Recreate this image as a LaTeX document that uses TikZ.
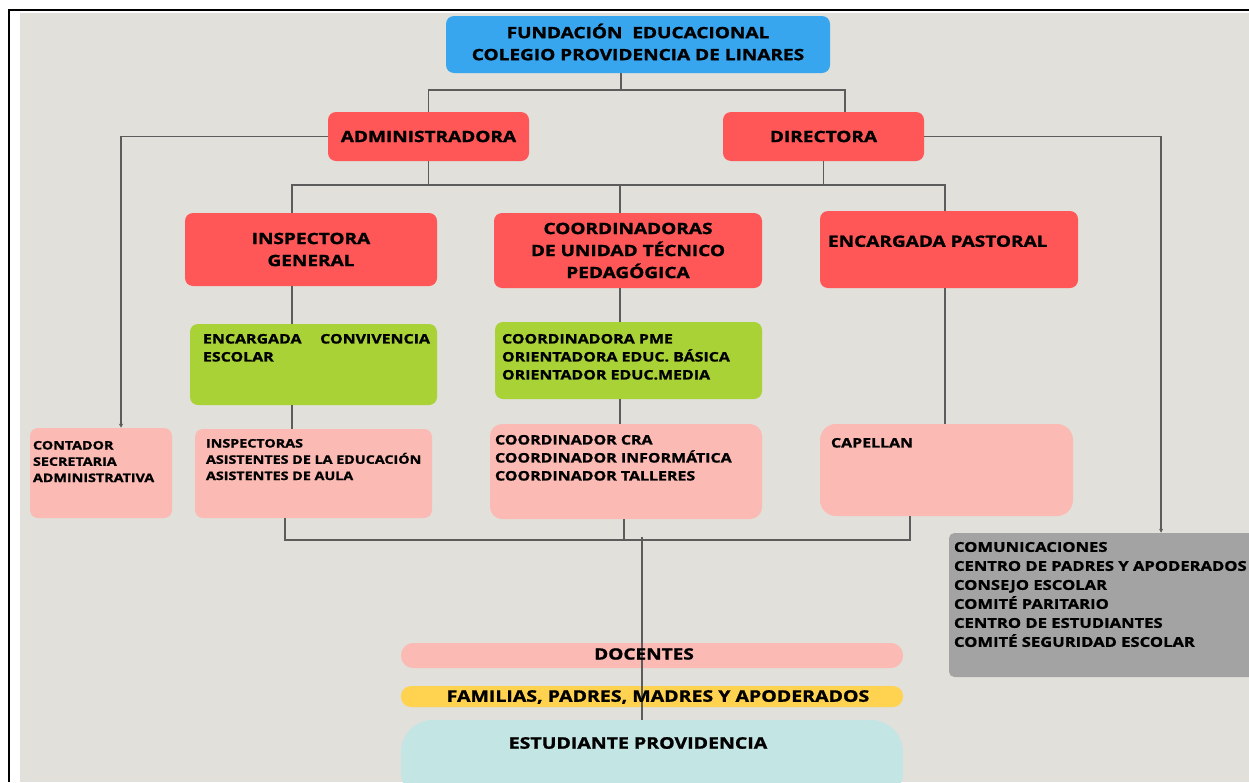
\documentclass[tikz,border=0pt]{standalone}
\usepackage{fontspec}
\setmainfont{Open Sans}[FakeStretch=1.22,BoldFeatures={FakeBold=1.3}]
\usetikzlibrary{arrows.meta,calc}

\definecolor{paper}{HTML}{E1E0DA}
\definecolor{fundblue}{HTML}{37A6EF}
\definecolor{rolered}{HTML}{FF5757}
\definecolor{rolegreen}{HTML}{A8D236}
\definecolor{rolepink}{HTML}{FBBAB3}
\definecolor{rolegray}{HTML}{A3A3A3}
\definecolor{famyellow}{HTML}{FFD24F}
\definecolor{studteal}{HTML}{C3E5E3}
\definecolor{linegray}{HTML}{5C5C5C}

\begin{document}
\begin{tikzpicture}[x=0.75pt,y=-0.75pt,
	boxsize/.style 2 args={minimum width=#1*0.75pt,minimum height=#2*0.75pt},
	unit/.style={rectangle,rounded corners=6pt,inner sep=0pt},
	big/.style={font=\fontsize{11.7}{16.5}\selectfont\bfseries,align=center},
	mid/.style={font=\fontsize{9.8}{13.5}\selectfont\bfseries,align=left},
	small/.style={font=\fontsize{8.8}{12.2}\selectfont\bfseries,align=left},
	txt/.style={anchor=north west,inner sep=0pt},
	conn/.style={draw=linegray,line width=0.8pt},
	tip/.style={-{Stealth[length=3pt,width=3pt]}}]
	\useasboundingbox (0,0) rectangle (1249,782);
	
	% page and frame
	\fill[white] (0,0) rectangle (1249,782);
	\fill[paper] (20,13) rectangle (1249,782);
	\draw[line width=1.2pt] (9,10) -- (1249,10);
	\draw[line width=2pt] (9,9.3) -- (9,782);
	
	% top levels
	\node[unit,fill=fundblue,boxsize={384}{57}] (found) at (638,44.5) {};
	\node[big] (foundtxt) at (638,42) {FUNDACIÓN\ \ EDUCACIONAL\\COLEGIO PROVIDENCIA DE LINARES};
	\node[unit,fill=rolered,boxsize={201}{49},big] (admin) at (428.5,136.5) {ADMINISTRADORA};
	\node[unit,fill=rolered,boxsize={201}{49},big] (direc) at (823.5,136.5) {DIRECTORA};
	
	\node[unit,fill=rolered,boxsize={252}{73},big] (insp) at (311,249.5) {INSPECTORA\\GENERAL};
	\node[unit,fill=rolered,boxsize={268}{75},big] (coord) at (628,250.5) {COORDINADORAS\\DE UNIDAD TÉCNICO\\PEDAGÓGICA};
	\node[unit,fill=rolered,boxsize={258}{77}] (past) at (949,249.5) {};
	\node[big,txt] (pasttxt) at ($(past.north west)+(8,24.5)$) {ENCARGADA PASTORAL};
	
	% green level
	\node[unit,fill=rolegreen,boxsize={247}{81}] (conv) at (313.5,364.5) {};
	\node[mid,txt,text width=170.25pt] (convtxt) at ($(conv.north west)+(13,10)$) {ENCARGADA\hfill CONVIVENCIA\\ESCOLAR};
	\node[unit,fill=rolegreen,boxsize={267}{77}] (pme) at (628.5,360.5) {};
	\node[mid,txt] (pmetxt) at ($(pme.north west)+(7,12)$) {COORDINADORA PME\\ORIENTADORA EDUC. BÁSICA\\ORIENTADOR EDUC.MEDIA};
	
	% pink level
	\node[unit,fill=rolepink,boxsize={142}{90}] (cont) at (101,473) {};
	\node[small,txt] (conttxt) at ($(cont.north west)+(3,13)$) {CONTADOR\\SECRETARIA\\ADMINISTRATIVA};
	\node[unit,fill=rolepink,boxsize={237}{89}] (inspas) at (313.5,473.5) {};
	\node[small,txt] (inspastxt) at ($(inspas.north west)+(11,10)$) {INSPECTORAS\\ASISTENTES DE LA EDUCACIÓN\\ASISTENTES DE AULA};
	\node[unit,fill=rolepink,boxsize={272}{95},rounded corners=9pt] (cra) at (626,471.5) {};
	\node[mid,txt] (cratxt) at ($(cra.north west)+(5,11)$) {COORDINADOR CRA\\COORDINADOR INFORMÁTICA\\COORDINADOR TALLERES};
	\node[unit,fill=rolepink,boxsize={253}{92},rounded corners=12pt] (capel) at (946.5,470) {};
	\node[mid,txt] (capeltxt) at ($(capel.north west)+(11,14)$) {CAPELLAN};
	\node[unit,fill=rolegray,boxsize={311}{144},rounded corners=4pt] (comu) at (1104.5,605) {};
	\node[mid,txt,font=\fontsize{10.2}{14.25}\selectfont\bfseries] (comutxt) at ($(comu.north west)+(5,9)$) {COMUNICACIONES\\CENTRO DE PADRES Y APODERADOS\\CONSEJO ESCOLAR\\COMITÉ PARITARIO\\CENTRO DE ESTUDIANTES\\COMITÉ SEGURIDAD ESCOLAR};
	
	% base
	\node[unit,fill=rolepink,boxsize={502}{25},rounded corners=9pt] (doc) at (652,655.5) {};
	\node[unit,fill=famyellow,boxsize={502}{21},rounded corners=7.5pt] (fam) at (652,696.5) {};
	\node[unit,fill=studteal,boxsize={502}{84},rounded corners=24pt] (est) at (652,762) {};
	
	% connectors
	\coordinate (j0) at (621,90);
	\coordinate (j1) at (845,90);
	\draw[conn] (found.south -| j0) -- (j0);
	\draw[conn] (admin.north) |- (j0) -| (direc.north -| j1);
	
	\coordinate (k0) at (292,185);
	\coordinate (k1) at (620,185);
	\coordinate (k2) at (945,185);
	\draw[conn] (admin.south) -- (admin.south |- k0);
	\draw[conn] (direc.south) -- (direc.south |- k0);
	\draw[conn] (insp.north -| k0) |- (k2) -- (past.north -| k2);
	\draw[conn] (k1) -- (coord.north -| k1);
	
	\draw[conn] (insp.south -| k0) -- (conv.north -| k0);
	\draw[conn] (conv.south -| k0) -- (inspas.north -| k0);
	\draw[conn] (coord.south -| k1) -- (pme.north -| k1);
	\draw[conn] (pme.south -| k1) -- (cra.north -| k1);
	\draw[conn] (past.south -| k2) -- (capel.north -| k2);
	
	\coordinate (a0) at (121,136);
	\coordinate (a1) at (1161,136);
	\draw[conn,tip] (admin.west) -| (cont.north -| a0);
	\draw[conn,tip] (direc.east) -| (comu.north -| a1);
	
	\coordinate (m0) at (285,540);
	\coordinate (m1) at (624,540);
	\coordinate (m2) at (910,540);
	\coordinate (m3) at (642,537);
	\draw[conn] (inspas.south -| m0) |- (m2) -- (capel.south -| m2);
	\draw[conn] (cra.south -| m1) -- (m1);
	\draw[conn] (m3) -- (est.north -| m3);
	
	% base labels
	\node[big] (doctxt) at (644,654) {DOCENTES};
	\node[big,font=\fontsize{12}{16}\selectfont\bfseries] (famtxt) at (658,697) {FAMILIAS, PADRES, MADRES Y APODERADOS};
	\node[big,font=\fontsize{12}{16}\selectfont\bfseries] (esttxt) at (638,743) {ESTUDIANTE PROVIDENCIA};
\end{tikzpicture}
\end{document}
